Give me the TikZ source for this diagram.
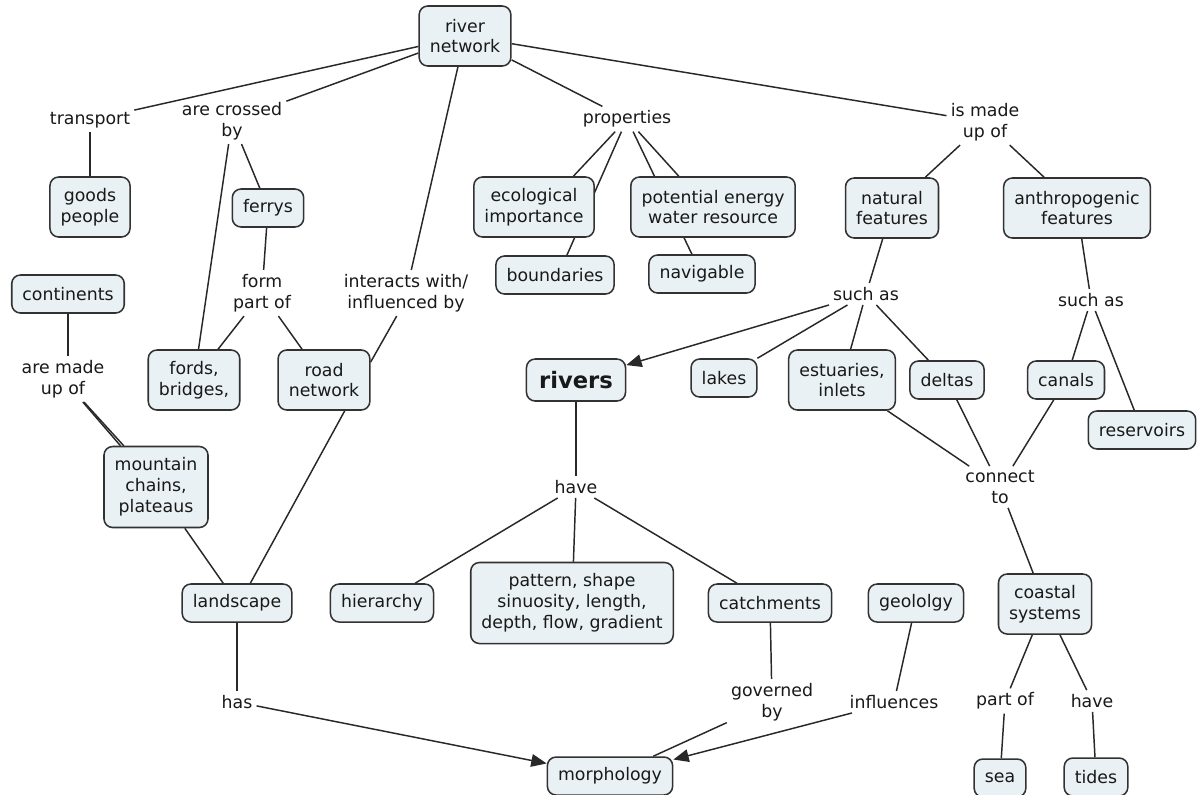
\documentclass[tikz,border=0pt]{standalone}
\usepackage{fontspec}
\setmainfont{DejaVu Sans}
\usetikzlibrary{arrows.meta,backgrounds}
\definecolor{boxfill}{RGB}{233,241,245}
\definecolor{boxline}{RGB}{50,50,50}
\definecolor{linkc}{RGB}{40,40,40}
\definecolor{txt}{RGB}{25,25,25}
\begin{document}
\begin{tikzpicture}[x=0.75pt,y=-0.75pt,
  every node/.style={font=\fontsize{13}{15.6}\selectfont, text=txt, align=center},
  concept/.style={draw=boxline, fill=boxfill, line width=1.15pt, rounded corners=6.5pt,
                  inner xsep=8pt, inner ysep=3pt, minimum height=28.5pt},
  twoline/.style={concept, minimum height=45pt},
  threeline/.style={concept, minimum height=60.75pt},
  phrase/.style={inner sep=3pt},
  link/.style={draw=linkc, line width=1.1pt},
  arr/.style={link, -{Triangle[length=11.5pt,width=9.5pt]}},
]
\useasboundingbox (0,0) rectangle (1198,794);

% concepts
\node[twoline] (rn) at (465,36) {river\\network};
\node[twoline] (goods) at (90,207) {goods\\people};
\node[concept] (ferrys) at (268,208) {ferrys};
\node[twoline] (eco) at (534,207) {ecological\\importance};
\node[twoline] (pot) at (713,207) {potential energy\\water resource};
\node[twoline] (nat) at (892,208) {natural\\features};
\node[twoline] (anth) at (1077,208) {anthropogenic\\features};
\node[concept] (bound) at (555,275) {boundaries};
\node[concept] (nav) at (702,274) {navigable};
\node[concept] (continents) at (68,294) {continents};
\node[twoline] (fords) at (194,380) {fords,\\bridges,};
\node[twoline] (road) at (324,380) {road\\network};
\node[concept, font=\fontsize{17}{20}\selectfont\bfseries, inner xsep=9.5pt, minimum height=31.5pt] (rivers) at (576,380) {rivers};
\node[concept] (lakes) at (724,378) {lakes};
\node[twoline] (est) at (842,380) {estuaries,\\inlets};
\node[concept] (deltas) at (947,380) {deltas};
\node[concept] (canals) at (1066,380) {canals};
\node[concept] (reservoirs) at (1142,430) {reservoirs};
\node[threeline] (mountain) at (156,487) {mountain\\chains,\\plateaus};
\node[concept] (landscape) at (237,603) {landscape};
\node[concept] (hier) at (382,603) {hierarchy};
\node[threeline] (pattern) at (572,603) {pattern, shape\\sinuosity, length,\\depth, flow, gradient};
\node[concept] (catch) at (770,603) {catchments};
\node[concept] (geo) at (916,603) {geololgy};
\node[twoline] (coastal) at (1045,604) {coastal\\systems};
\node[concept] (morph) at (610,776) {morphology};
\node[concept] (sea) at (1000,778) {sea};
\node[concept] (tides) at (1096,777) {tides};

% linking phrases
\node[phrase] (transport) at (90,120) {transport};
\node[phrase] (crossed) at (232,121) {are crossed\\by};
\node[phrase] (form) at (262,293) {form\\part of};
\node[phrase] (interacts) at (406,293) {interacts with/\\influenced by};
\node[phrase] (properties) at (627,119) {properties};
\node[phrase] (made2) at (985,122) {is made\\up of};
\node[phrase] (such1) at (866,294) {such as};
\node[phrase] (such2) at (1091,300) {such as};
\node[phrase] (made) at (63,379) {are made\\up of};
\node[phrase] (have1) at (576,487) {have};
\node[phrase] (connect) at (1000,487) {connect\\to};
\node[phrase] (has) at (237,702) {has};
\node[phrase] (governed) at (772,702) {governed\\by};
\node[phrase] (influences) at (894,702) {influences};
\node[phrase] (partof) at (1005,701) {part of};
\node[phrase] (have2) at (1092,701) {have};

\begin{pgfonlayer}{background}
\fill[white] (0,0) rectangle (1198,794);
\draw[link] (transport) -- (rn);
\draw[link] (crossed) -- (rn);
\draw[link] (transport) -- (goods);
\draw[link] (crossed) -- (ferrys);
\draw[link] (crossed) -- (fords);
\draw[link] (ferrys) -- (form);
\draw[link] (form) -- (fords);
\draw[link] (form) -- (road);
\draw[link] (rn) -- (interacts);
\draw[link] (interacts.248) -- (road.21);
\draw[link] (continents) -- (made.north -| continents);
\draw[link] (made) -- (mountain);
\draw[link] (made) -- (mountain.128.5);
\draw[link] (mountain) -- (landscape);
\draw[link] (road.-56) -- (landscape.56);
\draw[link] (landscape) -- (has);
\draw[arr] (has) -- (morph);
\draw[link] (rn) -- (properties);
\draw[link] (properties) -- (eco.38);
\draw[link] (properties) -- (bound.59);
\draw[link] (properties) -- (nav.117);
\draw[link] (properties) -- (pot.138);
\draw[link] (rn) -- (made2);
\draw[link] (made2) -- (nat);
\draw[link] (made2) -- (anth);
\draw[link] (nat) -- (such1);
\draw[arr] (such1) -- (rivers);
\draw[link] (such1) -- (lakes);
\draw[link] (such1) -- (est);
\draw[link] (such1) -- (deltas);
\draw[link] (anth) -- (such2);
\draw[link] (such2) -- (canals);
\draw[link] (such2) -- (reservoirs);
\draw[link] (est) -- (connect);
\draw[link] (deltas) -- (connect);
\draw[link] (canals) -- (connect);
\draw[link] (connect) -- (coastal);
\draw[link] (coastal) -- (partof);
\draw[link] (coastal) -- (have2);
\draw[link] (partof) -- (sea);
\draw[link] (have2) -- (tides);
\draw[link] (rivers) -- (have1);
\draw[link] (have1) -- (hier);
\draw[link] (have1) -- (pattern);
\draw[link] (have1) -- (catch);
\draw[link] (catch) -- (governed);
\draw[link] (governed) -- (morph);
\draw[link] (geo) -- (influences);
\draw[arr] (influences) -- (morph);
\end{pgfonlayer}
\end{tikzpicture}
\end{document}
